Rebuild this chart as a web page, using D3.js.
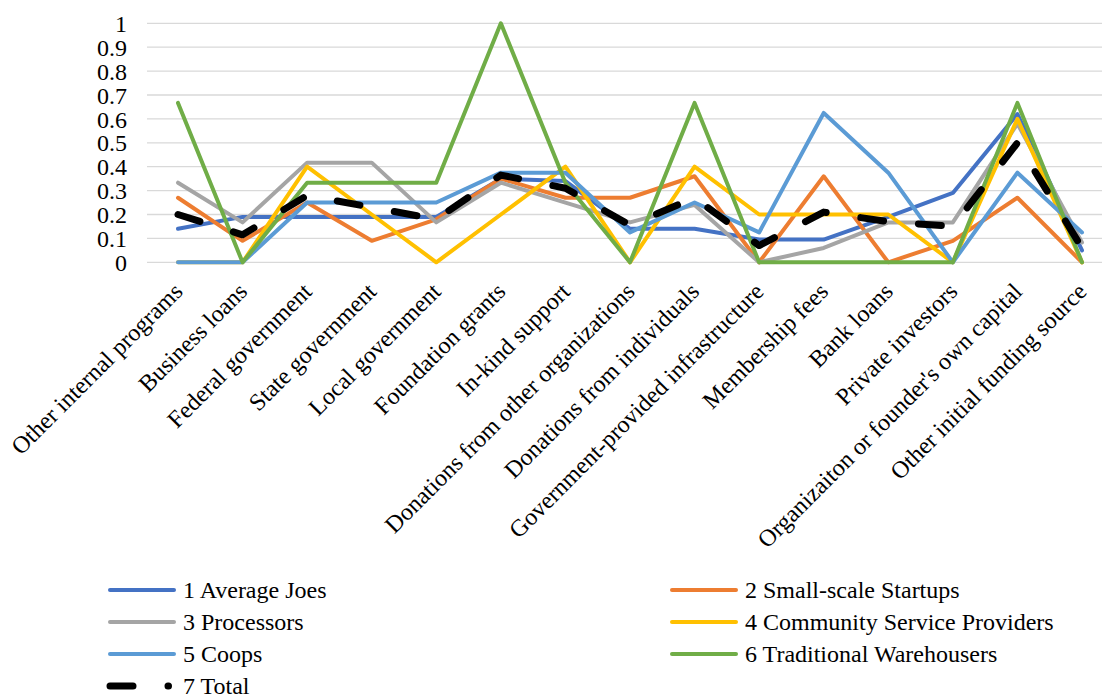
<!DOCTYPE html>
<html>
<head>
<meta charset="utf-8">
<script src="https://d3js.org/d3.v7.min.js"></script>
<style>
  body { margin: 0; background: #fff; }
  svg text { font-family: "Liberation Serif", "DejaVu Serif", "Times New Roman", serif !important; fill: #000; }
</style>
</head>
<body>
<div id="chart"></div>
<script>
const categories = [
  "Other internal programs", "Business loans", "Federal government", "State government",
  "Local government", "Foundation grants", "In-kind support", "Donations from other organizations",
  "Donations from individuals", "Government-provided infrastructure", "Membership fees",
  "Bank loans", "Private investors", "Organizaiton or founder's own capital", "Other initial funding source"
]

const seriesNames = [
  "1 Average Joes", "2 Small-scale Startups", "3 Processors", "4 Community Service Providers",
  "5 Coops", "6 Traditional Warehousers", "7 Total"
]

const averageJoes = [0.14, 0.19, 0.19, 0.19, 0.19, 0.35, 0.34, 0.14, 0.14, 0.095, 0.095, 0.19, 0.29, 0.62, 0.05]
const smallStartups = [0.27, 0.09, 0.25, 0.09, 0.18, 0.35, 0.27, 0.27, 0.36, 0, 0.36, 0, 0.09, 0.27, 0]
const processors = [0.333, 0.167, 0.417, 0.417, 0.167, 0.333, 0.25, 0.167, 0.24, 0, 0.06, 0.167, 0.167, 0.58, 0.083]
const communityProviders = [0, 0, 0.4, 0.2, 0, 0.2, 0.4, 0, 0.4, 0.2, 0.2, 0.2, 0, 0.6, 0]
const coops = [0, 0, 0.25, 0.25, 0.25, 0.375, 0.375, 0.125, 0.25, 0.125, 0.625, 0.375, 0, 0.375, 0.125]
const warehousers = [0.667, 0, 0.333, 0.333, 0.333, 1, 0.333, 0, 0.667, 0, 0, 0, 0, 0.667, 0]
const total = [0.2, 0.115, 0.28, 0.23, 0.18, 0.365, 0.31, 0.155, 0.27, 0.07, 0.21, 0.17, 0.15, 0.5, 0.06]

const yTicks = [0, 0.1, 0.2, 0.3, 0.4, 0.5, 0.6, 0.7, 0.8, 0.9, 1]

const colors = ["#4472C4", "#ED7D31", "#A5A5A5", "#FFC000", "#5B9BD5", "#70AD47", "#000000"]
const allSeries = [averageJoes, smallStartups, processors, communityProviders, coops, warehousers, total]

const width = 1102
const height = 696
const font = "'Liberation Serif', 'DejaVu Serif', serif"

const svg = d3.select("#chart").append("svg")
  .attr("width", width)
  .attr("height", height)

const x = d3.scalePoint()
  .domain(categories)
  .range([178, 1082])

const y = d3.scaleLinear()
  .domain([0, 1])
  .range([262.3, 23.3])

// gridlines
svg.append("g")
  .selectAll("line")
  .data(yTicks)
  .enter()
  .append("line")
  .attr("x1", 147)
  .attr("x2", 1114)
  .attr("y1", d => y(d))
  .attr("y2", d => y(d))
  .attr("stroke", "#d9d9d9")
  .attr("stroke-width", 1.3)

// y axis labels
const yAxis = d3.axisLeft(y)
  .tickValues(yTicks)
  .tickSize(0)
  .tickPadding(0)
  .tickFormat(d => d3.format("")(+d.toFixed(1)))

const yg = svg.append("g")
  .attr("transform", "translate(127,0)")
  .call(yAxis)
yg.attr("font-family", font).attr("font-size", 24)
yg.select(".domain").remove()
yg.selectAll("text")
  .style("font-family", font)
  .attr("fill", "#000")
  .attr("dy", "0.34em")

// x axis labels, rotated
svg.append("g")
  .selectAll("text")
  .data(categories)
  .enter()
  .append("text")
  .attr("transform", d => "translate(" + (x(d) + 6) + ",293) rotate(-45)")
  .attr("text-anchor", "end")
  .style("font-family", font)
  .attr("font-size", 24)
  .text(d => d)

const line = d3.line()
  .x((d, i) => x(categories[i]))
  .y(d => y(d))

allSeries.forEach((values, k) => {
  const path = svg.append("path")
    .datum(values)
    .attr("d", line)
    .attr("fill", "none")
    .attr("stroke", colors[k])
    .attr("stroke-linecap", "round")
    .attr("stroke-linejoin", "round")
  if (k === 6) {
    path.attr("stroke-width", 7).attr("stroke-dasharray", "23,35")
  } else {
    path.attr("stroke-width", 4)
  }
})

// legend
const legend = svg.append("g")
const legendX = [110, 672]
const legendY = [590, 622, 654, 686]

seriesNames.forEach((name, k) => {
  const lx = legendX[k % 2]
  const ly = legendY[Math.floor(k / 2)]
  const g = legend.append("g").attr("transform", "translate(" + lx + "," + ly + ")")
  const l = g.append("line")
    .attr("x1", 0)
    .attr("x2", k === 6 ? 58.5 : 64)
    .attr("y1", 0)
    .attr("y2", 0)
    .attr("stroke", colors[k])
    .attr("stroke-linecap", "round")
  if (k === 6) {
    l.attr("stroke-width", 7).attr("stroke-dasharray", "23,35")
  } else {
    l.attr("stroke-width", 4)
  }
  g.append("text")
    .attr("x", 73)
    .attr("y", 0)
    .attr("dy", "0.34em")
    .style("font-family", font)
    .attr("font-size", 24)
    .text(name)
})
</script>
</body>
</html>
